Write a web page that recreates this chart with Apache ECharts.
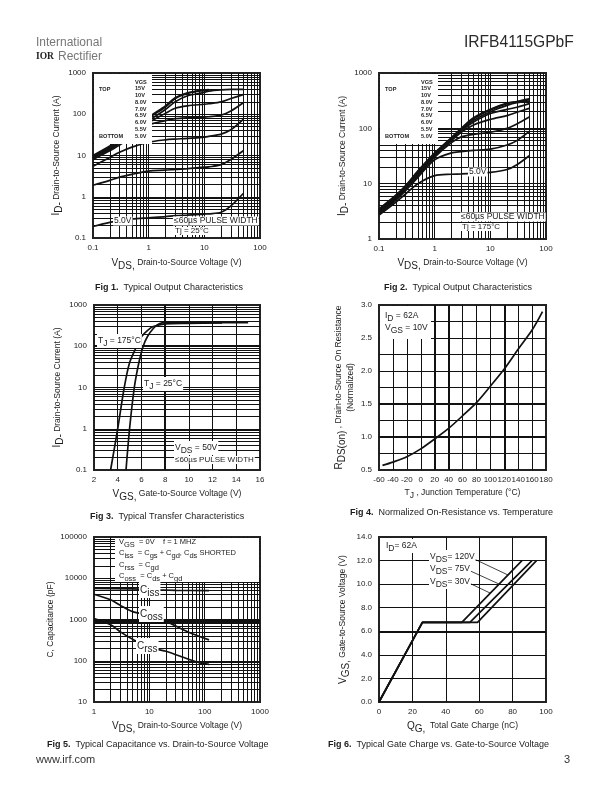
<!DOCTYPE html>
<html><head><meta charset="utf-8">
<style>html,body{margin:0;padding:0;background:#fff}#c{width:612px;height:792px}</style>
<script src="https://cdn.jsdelivr.net/npm/echarts@6/dist/echarts.min.js"></script>
</head><body><div id="c"></div>
<script>
// ---------- Data ----------
const decadeSteps = [1,2,3,4,5,6,7,8,9];

const fig1Vds  = [0.1,0.2,0.3,0.5,1,2,3,5,10,12,20,30,50];
const fig1I50  = [0.19,0.24,0.26,0.29,0.31,0.33,0.35,0.36,0.38,0.385,0.42,0.6,1.2];
const fig1I55  = [1.9,2.5,3,3.5,4.2,4.4,4.6,4.8,5.2,5.3,6,8,13];
const fig1I60  = [5.5,9,12,16,21,24,25,26,28,29,33,42,75];
const fig1I65  = [8,13,18,28,55,70,78,82,85,87,95,120,190];
const fig1I70  = [8.5,14,20,32,62,105,140,160,175,180,200,240,300];
const fig1I80  = [9,15,21,34,70,130,200,280,340,365,390,400,400];
const fig1I100 = [9.5,16,23,36,80,150,240,320,380,385,null,null,null];
const fig1I150 = [10,17,24,38,85,160,250,330,385,395,null,null,null];

const fig2Vds  = [0.1,0.2,0.3,0.5,1,2,3,5,10,20,30,50];
const fig2I50  = [2.7,4.6,6.5,10,14,14.8,15,15.4,16,18,22,32];
const fig2I55  = [2.8,5,7.5,13,27,36,38,40,42,50,60,88];
const fig2I60  = [3,5.2,8,14,30,55,70,78,85,100,120,160];
const fig2I65  = [3.1,5.4,8.3,15,32,60,85,115,145,170,195,230];
const fig2I70  = [3.2,5.6,8.5,15.5,33,62,90,130,185,220,240,280];
const fig2I80  = [3.3,5.8,8.8,16,34,64,95,140,200,260,290,310];
const fig2I100 = [3.4,6,9,16.5,35,66,98,150,215,280,300,330];
const fig2I150 = [3.5,6.2,9.2,17,36,68,100,155,220,285,305,340];

const fig3Vgs175 = [3.4,4,4.55,5,5.6,6,6.5,7,8,10,12.8];
const fig3I175   = [0.1,1,10,40,100,170,240,300,350,360,370];
const fig3Vgs25  = [4.7,5,5.4,5.8,6.15,6.5,7,7.5,8,10,15];
const fig3I25    = [0.1,1,10,42,100,170,270,350,375,375,375];

const fig4Temp = [-55,-40,-20,0,20,40,60,80,100,120,140,160,175];
const fig4Rds  = [0.57,0.62,0.7,0.82,0.97,1.13,1.32,1.52,1.77,2.03,2.33,2.62,2.9];

const fig5VdsCiss = [1,5,10,30,120];
const fig5Ciss    = [5700,5500,5300,5100,5000];
const fig5VdsCoss = [1,2,3,5,10,20,50,120];
const fig5Coss    = [4100,3000,2200,1550,1250,900,500,320];
const fig5VdsCrss = [1,2,3,5,10,20,50,80,120];
const fig5Crss    = [1050,750,500,330,210,170,110,90,82];

const fig6Q120 = [0,26,49.6,85.6];
const fig6Q75  = [0,26,54.4,91.6];
const fig6Q30  = [0,26,59,94.3];
const fig6Vgs  = [0,6.75,6.75,12];

const vgsLegend = ['15V','10V','8.0V','7.0V','6.5V','6.0V','5.5V','5.0V'];

// ---------- Helpers ----------
const FONT = '"Liberation Sans", Arial, sans-serif';
const INK = '#1c1c1c';
const subRich = {
  n:{fontSize:8.5,fontFamily:FONT,color:INK},
  b:{fontSize:10,fontFamily:FONT,color:INK},
  s:{fontSize:10,fontFamily:FONT,color:INK,padding:[6,0,0,0]},
  t:{fontSize:7.5,fontFamily:FONT,color:INK},
  ts:{fontSize:7.5,fontFamily:FONT,color:INK,padding:[5,0,0,0]},
  u:{fontSize:8.5,fontFamily:FONT,color:INK,padding:[5,0,0,0]}
};
function logLines(lo,hi){
  const out=[];
  for(let d=lo;d<hi*0.999;d*=10){
    decadeSteps.forEach(m=>{const v=+(m*d).toPrecision(3); if(v>lo&&v<hi) out.push(v);});
  }
  return out;
}
const pairs=(xs,ys)=>xs.map((x,i)=>[x,ys[i]]);

const grids=[],xAxes=[],yAxes=[],series=[];
function addChart(c){
  const i=grids.length;
  grids.push({left:c.x,top:c.y,width:c.w,height:c.h,show:true,borderColor:'#222',borderWidth:2,backgroundColor:'#fff'});
  const axis=(a,isX)=>({
    type:a.log?'log':'value',logBase:10,gridIndex:i,min:a.min,max:a.max,
    interval:a.log?undefined:a.step,
    axisLine:{show:false},axisTick:{show:false},splitLine:{show:false},minorSplitLine:{show:false},
    axisLabel:{show:true,interval:0,margin:isX?6:7,fontSize:8,fontFamily:FONT,color:INK,showMinLabel:true,showMaxLabel:true,
      hideOverlap:false,formatter:a.fmt||(v=>String(+(+v).toPrecision(3)))},
    name:a.name,nameLocation:'middle',nameGap:a.gap,nameRotate:isX?0:90,
    nameTextStyle:{fontSize:8.5,fontFamily:FONT,color:INK,rich:subRich,lineHeight:12}
  });
  xAxes.push(axis(c.xa,true)); yAxes.push(axis(c.ya,false));
  const line=(k,v,w)=>({[k]:v,lineStyle:{width:w}});
  const heavyX=c.xa.heavy||[],heavyY=c.ya.heavy||[];
  const md=[
    ...c.xa.lines.map(v=>line('xAxis',v,heavyX.includes(v)?2:1)),
    ...c.ya.lines.map(v=>line('yAxis',v,heavyY.includes(v)?2:1))
  ];
  series.push({type:'line',xAxisIndex:i,yAxisIndex:i,data:[],silent:true,z:1,
    markLine:{silent:true,symbol:'none',label:{show:false},animation:false,precision:6,
      lineStyle:{color:'#111',type:'solid',width:1},data:md}});
  c.curves.forEach(cv=>series.push({type:'line',name:cv.name,xAxisIndex:i,yAxisIndex:i,data:cv.data,z:3,
    smooth:c.smooth?0.3:false,showSymbol:false,symbol:'none',silent:true,connectNulls:false,animation:false,
    lineStyle:{color:'#111',width:cv.w||1.7}}));
}

addChart({x:93,y:73,w:167,h:165,smooth:true,
  xa:{log:true,min:0.1,max:100,lines:logLines(0.1,100),gap:19,name:'{b|V}{s|DS,} {n|Drain-to-Source Voltage (V)}'},
  ya:{log:true,min:0.1,max:1000,lines:logLines(0.1,1000),gap:27,name:'{b|I}{s|D-} {n|Drain-to-Source Current (A)}'},
  curves:[fig1I50,fig1I55,fig1I60,fig1I65,fig1I70,fig1I80,fig1I100,fig1I150].map((y,k)=>({name:vgsLegend[7-k],data:pairs(fig1Vds,y)}))});
addChart({x:379,y:73,w:167,h:166,smooth:true,
  xa:{log:true,min:0.1,max:100,lines:logLines(0.1,100),gap:18,name:'{b|V}{s|DS,} {n|Drain-to-Source Voltage (V)}'},
  ya:{log:true,min:1,max:1000,lines:logLines(1,1000),heavy:[100],gap:22,name:'{b|I}{s|D-} {n|Drain-to-Source Current (A)}'},
  curves:[fig2I50,fig2I55,fig2I60,fig2I65,fig2I70,fig2I80,fig2I100,fig2I150].map((y,k)=>({name:vgsLegend[7-k],data:pairs(fig2Vds,y)}))});
addChart({x:94,y:305,w:166,h:165,smooth:true,
  xa:{min:2,max:16,step:2,lines:[4,6,8,10,12,14],heavy:[8],gap:18,name:'{b|V}{s|GS,} {n|Gate-to-Source Voltage (V)}'},
  ya:{log:true,min:0.1,max:1000,lines:logLines(0.1,1000),heavy:[100],gap:26,name:'{b|I}{s|D-} {n|Drain-to-Source Current (A)}'},
  curves:[{name:'175C',data:pairs(fig3Vgs175,fig3I175)},{name:'25C',data:pairs(fig3Vgs25,fig3I25)}]});
addChart({x:379,y:305,w:167,h:165,smooth:true,
  xa:{min:-60,max:180,step:20,lines:[-40,-20,0,20,40,60,80,100,120,140,160],heavy:[20,40,120],gap:17,
    name:'{n|T}{u|J} {n|, Junction Temperature (°C)}'},
  ya:{min:0.5,max:3,step:0.5,fmt:v=>(+v).toFixed(1),lines:[0.75,1,1.25,1.5,1.75,2,2.25,2.5,2.75],heavy:[1,1.5],gap:21,
    name:'{b|R}{s|DS(on)} {n|, Drain-to-Source On Resistance}\n{n|(Normalized)}'},
  curves:[{name:'Rds',data:pairs(fig4Temp,fig4Rds)}]});
addChart({x:94,y:537,w:166,h:165,smooth:true,
  xa:{log:true,min:1,max:1000,lines:logLines(1,1000),gap:18,name:'{b|V}{s|DS,} {n|Drain-to-Source Voltage (V)}'},
  ya:{log:true,min:10,max:100000,lines:logLines(10,100000),heavy:[1000,900],gap:33,name:'{n|C, Capacitance (pF)}'},
  curves:[{name:'Ciss',data:pairs(fig5VdsCiss,fig5Ciss)},{name:'Coss',data:pairs(fig5VdsCoss,fig5Coss)},{name:'Crss',data:pairs(fig5VdsCrss,fig5Crss)}]});
addChart({x:379,y:537,w:167,h:165,smooth:false,
  xa:{min:0,max:100,step:20,lines:[20,40,60,80],gap:18,name:'{b|Q}{s|G,} {n| Total Gate Charge (nC)}'},
  ya:{min:0,max:14,step:2,fmt:v=>(+v).toFixed(1),lines:[2,4,6,8,10,12],heavy:[6],gap:30,name:'{b|V}{s|GS,} {n|Gate-to-Source Voltage (V)}'},
  curves:[{name:'120V',data:pairs(fig6Q120,fig6Vgs)},{name:'75V',data:pairs(fig6Q75,fig6Vgs)},{name:'30V',data:pairs(fig6Q30,fig6Vgs)}]});

// ---------- Annotations ----------
const gfx=[];
const rect=(x,y,w,h)=>gfx.push({type:'rect',z:50,silent:true,shape:{x,y,width:w,height:h},style:{fill:'#fff'}});
function text(x,y,t,o={}){
  gfx.push({type:'text',z:o.z||60,silent:true,x,y,style:{text:t,fill:o.fill||INK,
    font:`${o.bold?'bold ':''}${o.size||8.5}px ${o.family||FONT}`,align:o.align||'left',verticalAlign:'middle',
    backgroundColor:o.bg?'#fff':undefined,padding:o.bg?[0,1,0,1]:undefined,rich:o.rich}});
}
const leader=(x1,y1,x2,y2)=>gfx.push({type:'line',z:55,silent:true,shape:{x1,y1,x2,y2},style:{stroke:'#111',lineWidth:0.8}});

// Page text
text(464,43,'IRFB4115GPbF',{size:15.6,fill:'#2a2a2a'});
text(36,43,'International',{size:12,fill:'#777'});
text(36,57,'IOR',{size:9.5,bold:true,family:'"Liberation Serif", serif',fill:'#222'});
text(58,57,'Rectifier',{size:12,fill:'#777'});
text(36,760,'www.irf.com',{size:11,fill:'#333'});
text(564,760,'3',{size:11,fill:'#333'});

const capRich={h:{fontSize:9,fontWeight:'bold',fontFamily:FONT,color:'#222'},r:{fontSize:9,fontFamily:FONT,color:'#333'}};
[[95,288,'Fig 1.','Typical Output Characteristics'],
 [384,288,'Fig 2.','Typical Output Characteristics'],
 [90,517,'Fig 3.','Typical Transfer Characteristics'],
 [350,513,'Fig 4.','Normalized On-Resistance vs. Temperature'],
 [47,745,'Fig 5.','Typical Capacitance vs. Drain-to-Source Voltage'],
 [328,745,'Fig 6.','Typical Gate Charge vs. Gate-to-Source Voltage']
].forEach(c=>text(c[0],c[1],`{h|${c[2]}}{r|  ${c[3]}}`,{rich:capRich}));

// Fig 1 / Fig 2 Vgs boxes
const legendY=[88.7,95.7,102.7,109,115.7,122.7,129,136];
function vgsBox(bx,tx,vx){
  rect(bx,74,58,70);
  text(vx,82,'VGS',{size:5.6,bold:true});
  vgsLegend.forEach((v,i)=>text(vx,legendY[i],v,{size:5.6,bold:true}));
  text(tx,89,'TOP',{size:5.6,bold:true});
  text(tx,136,'BOTTOM',{size:5.6,bold:true});
}
vgsBox(94,99,135);
vgsBox(380,385,421);

text(113,221,'5.0V',{bg:1,size:8.5});
text(173,221,'≤60µs PULSE WIDTH',{bg:1,size:8.5});
text(174,231,'Tj = 25°C',{bg:1,size:8});
text(468,172,'5.0V',{bg:1,size:8.5});
text(460,217,'≤60µs PULSE WIDTH',{bg:1,size:8.5});
text(461,227,'Tj = 175°C',{bg:1,size:8});

// Fig 3
text(97,341,'{n|T}{u|J}{n| = 175°C}',{bg:1,rich:subRich});
text(143,384,'{n|T}{u|J}{n| = 25°C}',{bg:1,rich:subRich});
text(174,448,'{n|V}{u|DS}{n| = 50V}',{bg:1,rich:subRich});
text(174,460,'≤60µs PULSE WIDTH',{bg:1,size:8});

// Fig 4
rect(380,306,51,33);
text(385,316,'{n|I}{u|D}{n| = 62A}',{rich:subRich});
text(385,328,'{n|V}{u|GS}{n| = 10V}',{rich:subRich});

// Fig 5
rect(115,538,144,44);
const capBox=[[542,'{t|V}{ts|GS}{t|  = 0V    f = 1 MHZ}'],
 [553,'{t|C}{ts|iss}{t|  = C}{ts|gs}{t| + C}{ts|gd}{t|, C}{ts|ds}{t| SHORTED}'],
 [565,'{t|C}{ts|rss}{t|  = C}{ts|gd}'],
 [576,'{t|C}{ts|oss}{t|  = C}{ts|ds}{t| + C}{ts|gd}']];
capBox.forEach(l=>text(119,l[0],l[1],{rich:subRich}));
text(139,590,'{b|C}{s|iss}',{bg:1,rich:subRich});
text(139,614,'{b|C}{s|oss}',{bg:1,rich:subRich});
text(136,646,'{b|C}{s|rss}',{bg:1,rich:subRich});

// Fig 6
text(385,546,'{n|I}{u|D}{n|= 62A}',{bg:1,rich:subRich});
leader(470,557,508,575); leader(466,569,499,584); leader(467,582,490,593);
text(429,557,'{n|V}{u|DS}{n|= 120V}',{bg:1,rich:subRich});
text(429,569,'{n|V}{u|DS}{n|= 75V}',{bg:1,rich:subRich});
text(429,582,'{n|V}{u|DS}{n|= 30V}',{bg:1,rich:subRich});

const chart=echarts.init(document.getElementById('c'),null,{renderer:'canvas'});
chart.setOption({animation:false,backgroundColor:'#fff',grid:grids,xAxis:xAxes,yAxis:yAxes,series,graphic:{elements:gfx}});
</script></body></html>
